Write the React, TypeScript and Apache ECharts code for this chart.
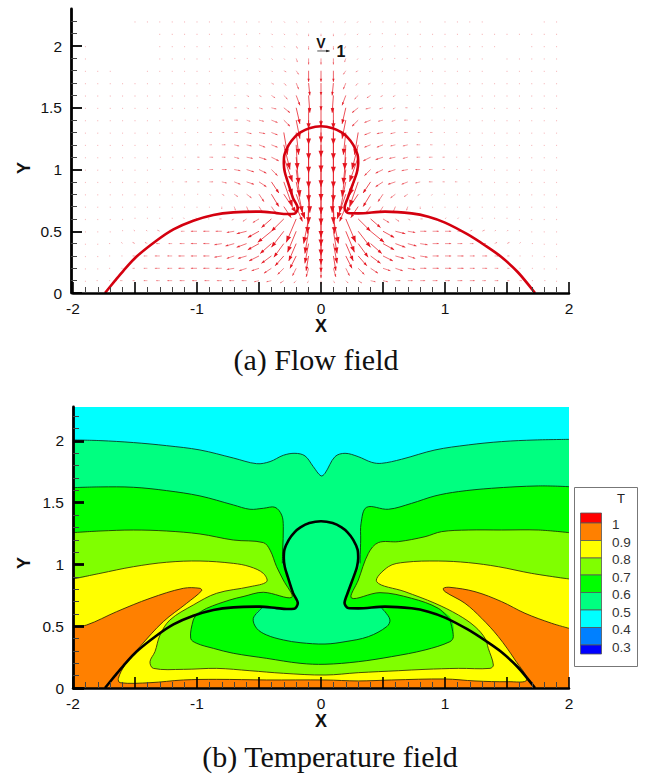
import React, { useEffect, useRef } from "react";
import * as echarts from "echarts";

const SANS = "'Liberation Sans', Arial, sans-serif";
const SERIF = "'Liberation Serif', 'Times New Roman', serif";

const xTicksMajor = [-2, -1.5, -1, -0.5, 0, 0.5, 1, 1.5, 2];
const yTicksMajor = [0, 0.5, 1, 1.5, 2];
const yTicksMinor = [0.1, 0.2, 0.3, 0.4, 0.6, 0.7, 0.8, 0.9, 1.1, 1.2, 1.3, 1.4, 1.6, 1.7, 1.8, 1.9, 2.1, 2.2];

// Interface between the drop and the surrounding fluid
const interfaceCurve = [
  [-1.742, 0], [-1.661, 0.1], [-1.594, 0.18], [-1.487, 0.295], [-1.325, 0.425], [-1.19, 0.515], [-1.03, 0.585],
  [-0.868, 0.632], [-0.707, 0.653], [-0.492, 0.659], [-0.358, 0.647], [-0.277, 0.64], [-0.215, 0.642],
  [-0.187, 0.686], [-0.226, 0.77], [-0.268, 0.9], [-0.292, 0.98], [-0.3, 1.05], [-0.295, 1.12], [-0.26, 1.2],
  [-0.214, 1.26], [-0.166, 1.3], [-0.094, 1.335], [0, 1.35], [0.094, 1.335], [0.166, 1.3], [0.214, 1.26], [0.26, 1.2],
  [0.295, 1.12], [0.3, 1.05], [0.29, 0.98], [0.274, 0.93], [0.218, 0.777], [0.19, 0.688], [0.218, 0.648], [0.3, 0.645],
  [0.516, 0.659], [0.731, 0.645], [0.866, 0.618], [1.0, 0.57], [1.18, 0.476], [1.323, 0.385], [1.45, 0.295], [1.586, 0.17], [1.726, 0],
];

// Isotherms of the temperature field
const iso05 = [
  [-2, 2.008], [-1.782, 2.003], [-1.513, 1.987], [-1.245, 1.962], [-0.976, 1.927], [-0.707, 1.862], [-0.519, 1.816],
  [-0.411, 1.833], [-0.304, 1.884], [-0.21, 1.9], [-0.129, 1.879], [-0.062, 1.792], [0, 1.717], [0.032, 1.738],
  [0.113, 1.873], [0.194, 1.9], [0.3, 1.873], [0.409, 1.827], [0.489, 1.819], [0.65, 1.852], [0.919, 1.927],
  [1.188, 1.968], [1.457, 1.995], [1.726, 2.008], [2, 2.013],
];
const iso06Left = [
  [-2, 1.622], [-1.782, 1.628], [-1.513, 1.625], [-1.245, 1.598], [-0.976, 1.555], [-0.707, 1.482], [-0.573, 1.447],
  [-0.465, 1.455], [-0.371, 1.463], [-0.317, 1.4], [-0.304, 1.306], [-0.309, 1.117], [-0.312, 1.009],
];
const iso06Right = [
  [0.315, 1.009], [0.32, 1.198], [0.323, 1.333], [0.368, 1.463], [0.543, 1.447], [0.731, 1.495], [0.919, 1.555],
  [1.108, 1.59], [1.376, 1.617], [1.753, 1.636], [2, 1.63],
];
const neckInner = [[-0.25, 0.848], [-0.21, 0.753], [-0.191, 0.686], [0.18, 0.69], [0.207, 0.78], [0.26, 0.88]];
const iso07Left = [
  [-2, 1.258], [-1.782, 1.271], [-1.513, 1.279], [-1.245, 1.271], [-0.976, 1.247], [-0.707, 1.198], [-0.465, 1.177],
  [-0.411, 1.117], [-0.358, 0.982], [-0.304, 0.874], [-0.236, 0.734], [-0.465, 0.775], [-0.629, 0.74], [-0.734, 0.713],
  [-0.922, 0.645], [-1.003, 0.591],
];
const iso07Right = [
  [1.04, 0.55], [0.946, 0.645], [0.731, 0.726], [0.476, 0.772], [0.247, 0.728], [0.301, 0.874], [0.382, 1.09],
  [0.462, 1.177], [0.624, 1.185], [0.839, 1.225], [0.973, 1.266], [1.188, 1.279], [1.457, 1.279], [1.753, 1.279], [2, 1.258],
];
const iso07Inner = [
  [-1.003, 0.591], [-1.03, 0.551], [-1.051, 0.402], [-1.003, 0.362], [-0.868, 0.321], [-0.707, 0.281], [-0.438, 0.24],
  [-0.169, 0.2], [0.032, 0.192], [0.301, 0.213], [0.57, 0.254], [0.839, 0.308], [1.04, 0.375], [1.067, 0.416], [1.04, 0.55],
];
const iso06Lobe = [
  [-0.478, 0.645], [-0.546, 0.564], [-0.519, 0.483], [-0.438, 0.429], [-0.304, 0.389], [-0.169, 0.367], [0.032, 0.356],
  [0.194, 0.375], [0.382, 0.416], [0.53, 0.497], [0.556, 0.551], [0.516, 0.618], [0.489, 0.645],
];
const lobeTop = [
  [0.3, 0.64], [0.22, 0.645], [0.18, 0.69], [0.2, 0.75], [-0.2, 0.75], [-0.191, 0.686], [-0.223, 0.64], [-0.277, 0.634], [-0.358, 0.645],
];
const iso08 = [
  [-2, 0.883], [-1.782, 0.928], [-1.513, 0.982], [-1.245, 1.018], [-0.976, 1.028], [-0.707, 1.009], [-0.573, 0.982],
  [-0.465, 0.928], [-0.438, 0.861], [-0.573, 0.82], [-0.841, 0.767], [-1.03, 0.672], [-1.218, 0.551], [-1.298, 0.429],
  [-1.339, 0.294], [-1.379, 0.213], [-1.352, 0.159], [-1.11, 0.151], [-0.841, 0.159], [-0.573, 0.14], [-0.304, 0.119],
  [0.032, 0.105], [0.301, 0.124], [0.624, 0.14], [0.839, 0.151], [1.108, 0.159], [1.363, 0.159], [1.39, 0.186],
  [1.349, 0.321], [1.323, 0.402], [1.242, 0.497], [1.108, 0.591], [0.919, 0.686], [0.677, 0.78], [0.449, 0.861],
  [0.543, 0.982], [0.677, 1.018], [0.946, 1.028], [1.188, 1.015], [1.43, 0.982], [1.699, 0.928], [2, 0.883],
];
const iso09 = [
  [-2, 0.497], [-1.89, 0.51], [-1.648, 0.618], [-1.379, 0.726], [-1.11, 0.807], [-0.976, 0.807], [-0.962, 0.788],
  [-1.083, 0.686], [-1.272, 0.537], [-1.46, 0.335], [-1.581, 0.186], [-1.634, 0.078], [-1.621, 0.043], [-1.379, 0.043],
  [-1.11, 0.065], [-0.841, 0.07], [-0.438, 0.065], [0.032, 0.065], [0.301, 0.057], [0.57, 0.065], [1.0, 0.073],
  [1.242, 0.057], [1.511, 0.051], [1.659, 0.065], [1.565, 0.227], [1.43, 0.416], [1.296, 0.564], [1.161, 0.686],
  [1.0, 0.78], [0.987, 0.807], [1.04, 0.815], [1.242, 0.78], [1.457, 0.699], [1.645, 0.605], [1.86, 0.524], [2, 0.483],
];

// Velocity field, right half (x = 0, 0.1, ... 1.9), rows y = 2.2 ... 0.1, in hundredths; left half mirrors it
const rowY = [2.2, 2.1, 2, 1.9, 1.8, 1.7, 1.6, 1.5, 1.4, 1.3, 1.2, 1.1, 1, 0.9, 0.8, 0.7, 0.6, 0.5, 0.4, 0.3, 0.2, 0.1];
const velU = [
  [0, 0, -1, -1],
  [0, 0, -1, -1, -1, -1],
  [0, 0, -1, -1, -1, -1, -1],
  [0, 0, -1, -1, -1, -1, -1, -1],
  [0, 0, -2, -2, -1, -1, -1, -1],
  [0, -1, -2, -2, -2, -1, -1, -1, -1],
  [0, -1, -3, -3, -3, -2, -2, -1, -1, -1],
  [0, 0, -3, -5, -4, -3, -2, -2, -1, -1, -1],
  [0, 0, -3, -5, -5, -4, -3, -3, -2, -1, -1, -1],
  [0, 0, -2, -3, -5, -5, -4, -3, -2, -2, -1, -1],
  [0, 0, -1, -5, -5, -5, -4, -4, -3, -2, -1, -1],
  [0, 0, -2, -7, -6, -6, -5, -4, -3, -3, -2, -1, -1, -1],
  [0, 0, -3, -7, -5, -6, -6, -5, -4, -3, -2, -1, -1, -1],
  [0, -1, -5, -7, -6, -6, -6, -5, -4, -3, -2, -2, -1, -1],
  [0, 0, -7, -10, -6, -4, -4, -3, -2, -1, -1],
  [0, 1, -5, -6, -4, -3, -2, -1],
  [0, 4, 8, 10, 8, 5, 3, 2, 2, 1, 1, 1],
  [0, 3, 7, 10, 11, 9, 8, 6, 5, 5, 5, 3, 2, 2, 1, 1],
  [0, 3, 6, 8, 9, 9, 8, 7, 6, 5, 5, 4, 3, 3, 2, 2, 1, 1],
  [0, 2, 5, 7, 8, 8, 7, 6, 6, 5, 5, 5, 4, 4, 3, 2, 1, 1],
  [0, 2, 3, 5, 6, 6, 6, 6, 5, 5, 5, 5, 4, 4, 3, 2, 1, 1],
  [0, 1, 2, 3, 4, 4, 4, 4, 4, 4, 4, 4, 4, 3, 3, 2, 2, 1, 1],
];
const velV = [
  [-1, -1, -1, -1],
  [-2, -2, -1, -1, -1],
  [-3, -3, -2, -1, -1, -1],
  [-5, -5, -3, -1, -1, -1],
  [-9, -9, -3, -1, -1, -1],
  [-10, -10, -5, -2, -1, -1, -1],
  [-12, -14, -8, -3, -2, -1, -1],
  [-15, -17, -13, -4, -1, -1, -1],
  [-18, -20, -15, -5, -2, -1, -1],
  [-20, -22, -18, -18, -2, -1, -1],
  [-22, -23, -20, -20, -2, -2, -1, -1],
  [-24, -25, -22, -20, -3, -2, -1, -1],
  [-25, -26, -22, -21, -5, -3, -2, -1],
  [-26, -25, -25, -20, -9, -4, -2, -2, -1],
  [-25, -24, -20, -15, -10, -6, -3, -2, -1, -1],
  [-25, -22, -12, -9, -6, -5, -5, -3, -2, -1, -1],
  [-22, -20, -19, -10, -7, -3, -2, -1, 0, 0, 1, 1, 1, 1, 1, 1],
  [-20, -18, -17, -13, -9, -5, -2, -1, 0, 0, 0, 0, 1, 1, 1, 1, 1],
  [-17, -16, -14, -11, -8, -5, -3, -2, -1, 0, 0, 0, 0, 0, 1, 1, 1],
  [-13, -12, -10, -8, -6, -4, -2, -2, -1],
  [-8, -7, -6, -5, -4, -2, -2, -1],
  [-3, -2, -2, -2, -1, -1],
];
// Grid stations where the reference shows no arrow: [y, x from, x to]
const emptyStations = [
  [2.2, -1.95, -1.55], [2.2, 0.85, 0.95], [2.2, 1.35, 1.75],
  [2.1, -1.95, -1.35],
  [2, -1.85, -1.35], [2, 1.45, 1.65],
  [1.9, -1.85, -1.35], [1.9, 1.35, 1.45],
  [1.8, -1.65, -1.45], [1.8, 1.35, 1.45],
];
const referenceVector = [[-0.03, 1.96, 0.1, 0]];

const legendColors = ["#ff0000", "#ff8000", "#ffff00", "#80ff00", "#00ff00", "#00ff80", "#00ffff", "#0080ff", "#0000ff"];
const legendLabels = ["1", "0.9", "0.8", "0.7", "0.6", "0.5", "0.4", "0.3"];

const quiverData: number[][] = [];
rowY.forEach((y, i) => {
  for (let j = 0; j < 20; j++) {
    const u = (velU[i][j] || 0) / 100;
    const v = (velV[i][j] || 0) / 100;
    const x = j / 10;
    const hide = (px: number) => emptyStations.some((g) => g[0] === y && px >= g[1] && px <= g[2]);
    if (!hide(x)) quiverData.push([x, y, u, v]);
    if (j > 0 && !hide(-x)) quiverData.push([-x, y, -u, v]);
  }
});

const SMOOTH = 0.35;

const arrowItem = (color: string, full: boolean) => (_p: any, api: any) => {
  const x = api.value(0), y = api.value(1), u = api.value(2), v = api.value(3);
  const a = api.coord([x, y]);
  const b = api.coord([x + u, y + v]);
  let dx = b[0] - a[0], dy = b[1] - a[1];
  let len = Math.hypot(dx, dy);
  if (len < 1.2) { dx = 0; dy = 1.2; len = 1.2; b[0] = a[0]; b[1] = a[1] + 1.2; }
  const ux = dx / len, uy = dy / len;
  const h = Math.min(len * 0.24 + 0.5, 6.5);
  const w = h * 0.38;
  const base = [b[0] - ux * h, b[1] - uy * h];
  const opacity = full ? 1 : Math.min(1, 0.25 + len / 18);
  return {
    type: "group",
    children: [
      { type: "line", shape: { x1: a[0], y1: a[1], x2: b[0], y2: b[1] }, style: { stroke: color, lineWidth: 0.75, opacity } },
      {
        type: "polygon",
        shape: { points: [b, [base[0] - uy * w, base[1] + ux * w], [base[0] + uy * w, base[1] - ux * w]] },
        style: { fill: color, opacity },
      },
    ],
  };
};

const fill = (pts: number[][], color: string, smooth: number) => ({
  type: "custom", xAxisIndex: 1, yAxisIndex: 2, data: pts, encode: { x: 0, y: 1 }, clip: true, silent: true, z: 1,
  renderItem: (p: any, api: any) =>
    p.dataIndex === 0 ? { type: "polygon", shape: { points: pts.map((d) => api.coord(d)), smooth }, style: { fill: color } } : null,
});
// Closes an isotherm below it, well outside the clipped plot area
const closeBelow = (pts: number[][]) => [
  ...pts,
  [2.4, pts[pts.length - 1][1]], [2.4, -0.4], [-2.4, -0.4], [-2.4, pts[0][1]],
];
const isoLine = (pts: number[][], color: string) => ({
  type: "custom", xAxisIndex: 1, yAxisIndex: 2, data: pts, encode: { x: 0, y: 1 }, clip: true, silent: true, z: 2,
  renderItem: (p: any, api: any) =>
    p.dataIndex === 0
      ? { type: "polyline", shape: { points: pts.map((d) => api.coord(d)), smooth: SMOOTH }, style: { fill: "none", stroke: color, lineWidth: 0.9 } }
      : null,
});
const curve = (pts: number[][], color: string, width: number, xi: number, yi: number, z: number) => ({
  type: "line", xAxisIndex: xi, yAxisIndex: yi, data: pts, showSymbol: false, symbol: "none", clip: true, silent: true, z, smooth: 0.3,
  lineStyle: { color, width, join: "round" },
});

const xAxisOf = (gridIndex: number) => ({
  type: "value", gridIndex, min: -2, max: 2, interval: 0.5, z: 10,
  axisLine: { show: true, onZero: false, lineStyle: { color: "#000", width: 2.5 } },
  axisTick: { show: true, inside: true, length: 11, lineStyle: { color: "#000", width: 1.6 } },
  minorTick: { show: true, splitNumber: 5, length: 6, lineStyle: { color: "#444", width: 1 } },
  splitLine: { show: false }, minorSplitLine: { show: false },
  axisLabel: {
    show: true, margin: 7, fontFamily: SANS, fontSize: 15.5, color: "#111",
    showMinLabel: true, showMaxLabel: true,
    formatter: (v: number) => (Number.isInteger(v) && xTicksMajor.includes(v) ? String(v) : ""),
  },
  name: "X", nameLocation: "middle", nameGap: 24,
  nameTextStyle: { fontFamily: SANS, fontSize: 18, fontWeight: "bold", color: "#111" },
});
const yAxisMajor = (gridIndex: number, max: number, width: number, offset: number) => ({
  type: "value", gridIndex, min: 0, max, position: "left", z: 10, offset,
  axisLine: { show: true, onZero: false, lineStyle: { color: "#000", width: 2.8 } },
  axisTick: { show: true, inside: true, length: 11, customValues: yTicksMajor, lineStyle: { color: "#000", width } },
  splitLine: { show: false },
  axisLabel: { show: true, margin: 9, customValues: yTicksMajor, fontFamily: SANS, fontSize: 15.5, color: "#111", formatter: (v: number) => String(v) },
});
const yAxisMinor = (gridIndex: number, max: number, offset: number) => ({
  type: "value", gridIndex, min: 0, max, position: "left", z: 10, offset,
  axisLine: { show: false, onZero: false },
  axisTick: { show: true, inside: true, length: 6, customValues: yTicksMinor, lineStyle: { color: "#444", width: 1 } },
  splitLine: { show: false },
  axisLabel: { show: false },
});

const legendGraphics = () => {
  const items: any[] = [
    { type: "rect", shape: { x: 574.5, y: 487.5, width: 63, height: 179 }, style: { fill: "#fff", stroke: "#777", lineWidth: 1 } },
    { type: "text", style: { x: 621, y: 498, text: "T", fontFamily: SANS, fontSize: 13, fill: "#222", align: "center", verticalAlign: "middle" } },
  ];
  const tops = [513, 523, 540.5, 558, 575, 592.5, 610, 627.5, 645, 654];
  legendColors.forEach((c, i) => {
    items.push({
      type: "rect", shape: { x: 580.5, y: tops[i], width: 21, height: tops[i + 1] - tops[i] },
      style: { fill: c, stroke: "#555", lineWidth: 0.8 },
    });
  });
  legendLabels.forEach((t, i) => {
    items.push({
      type: "text",
      style: { x: 612, y: 524.5 + i * 17.55, text: t, fontFamily: SANS, fontSize: 13.5, fill: "#333", align: "left", verticalAlign: "middle" },
    });
  });
  return items;
};

export default function App() {
  const ref = useRef<HTMLDivElement>(null);
  useEffect(() => {
    const chart = echarts.init(ref.current!, undefined, { renderer: "svg" });
    chart.setOption({
      animation: false,
      backgroundColor: "#fff",
      tooltip: { show: false },
      grid: [
        { left: 73, top: 9, width: 496, height: 284, containLabel: false },
        { left: 73, top: 407, width: 496, height: 281, containLabel: false },
      ],
      xAxis: [xAxisOf(0), xAxisOf(1)],
      yAxis: [yAxisMajor(0, 2.3, 1.8, 2), yAxisMinor(0, 2.3, 2), yAxisMajor(1, 2.275, 2.8, 0), yAxisMinor(1, 2.275, 0)],
      series: [
        {
          type: "custom", xAxisIndex: 0, yAxisIndex: 0, data: quiverData, encode: { x: 0, y: 1 }, clip: false, silent: true, z: 3,
          renderItem: arrowItem("#e5141f", false),
        },
        curve(interfaceCurve, "#d4000f", 2.6, 0, 0, 4),
        {
          type: "custom", xAxisIndex: 0, yAxisIndex: 0, data: referenceVector, encode: { x: 0, y: 1 }, clip: false, silent: true, z: 5,
          renderItem: arrowItem("#111", true),
        },
        fill([[-2.4, -0.4], [2.4, -0.4], [2.4, 2.6], [-2.4, 2.6]], "#00ffff", 0),
        fill(closeBelow(iso05), "#00ff80", SMOOTH),
        fill(closeBelow([...iso06Left, ...neckInner, ...iso06Right]), "#00ff00", SMOOTH),
        fill(closeBelow([...iso07Left, [0, 0.3], ...iso07Right]), "#80ff00", SMOOTH),
        fill([...iso07Inner, [0, 0.7]], "#00ff00", SMOOTH),
        fill([...iso06Lobe, ...lobeTop], "#00ff80", SMOOTH),
        fill(closeBelow(iso08), "#ffff00", SMOOTH),
        fill(closeBelow(iso09), "#ff8000", SMOOTH),
        isoLine(iso05, "#0c3a2a"),
        isoLine(iso06Left, "#063a10"),
        isoLine(iso06Right, "#063a10"),
        isoLine(iso07Left, "#1c3a06"),
        isoLine(iso07Right, "#1c3a06"),
        isoLine(iso07Inner, "#063a10"),
        isoLine(iso06Lobe, "#063a10"),
        isoLine(iso08, "#3a3a06"),
        isoLine(iso09, "#3a2a06"),
        curve(interfaceCurve, "#000", 2.6, 1, 2, 4),
      ],
      graphic: [
        { type: "text", style: { x: 24, y: 168, text: "Y", fontFamily: SANS, fontSize: 18, fontWeight: "bold", fill: "#111", align: "center", verticalAlign: "middle" }, rotation: Math.PI / 2, originX: 24, originY: 168 },
        { type: "text", style: { x: 24, y: 563, text: "Y", fontFamily: SANS, fontSize: 18, fontWeight: "bold", fill: "#111", align: "center", verticalAlign: "middle" }, rotation: Math.PI / 2, originX: 24, originY: 563 },
        { type: "text", style: { x: 321, y: 43, text: "V", fontFamily: SANS, fontSize: 14, fontWeight: "bold", fill: "#111", align: "center", verticalAlign: "middle" } },
        { type: "text", style: { x: 341, y: 51, text: "1", fontFamily: SANS, fontSize: 16, fontWeight: "bold", fill: "#111", align: "center", verticalAlign: "middle" } },
        { type: "text", style: { x: 316, y: 359, text: "(a) Flow field", fontFamily: SERIF, fontSize: 30, fill: "#111", align: "center", verticalAlign: "middle" } },
        { type: "text", style: { x: 330, y: 756, text: "(b) Temperature field", fontFamily: SERIF, fontSize: 30, fill: "#111", align: "center", verticalAlign: "middle" } },
        ...legendGraphics(),
      ],
    });
    return () => chart.dispose();
  }, []);
  return <div ref={ref} style={{ position: "absolute", left: 0, top: 0, width: 649, height: 774 }} />;
}
